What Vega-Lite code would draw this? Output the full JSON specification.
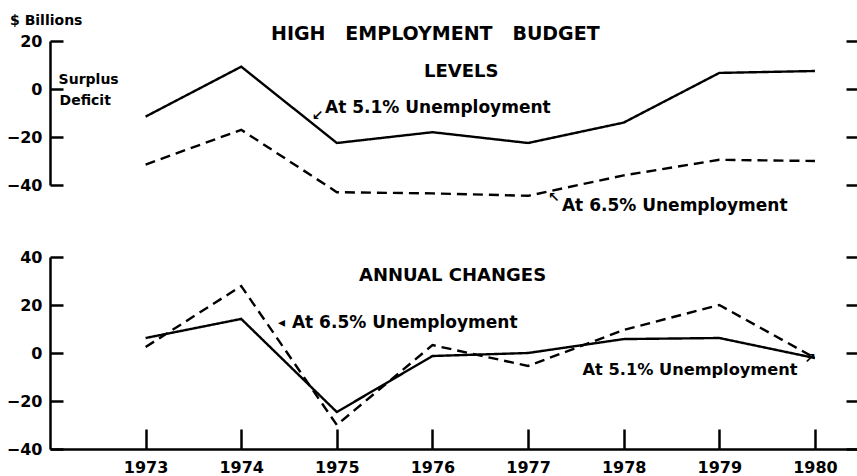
{
  "$schema": "https://vega.github.io/schema/vega-lite/v6.json",
  "autosize": {"type": "pad"},
  "padding": {"left": 6, "top": 14, "right": 0, "bottom": 0},
  "background": "white",
  "bounds": "flush",
  "spacing": 72,
  "config": {
    "view": {"stroke": null},
    "font": "DejaVu Sans",
    "axis": {"labelFont": "DejaVu Sans", "labelFontWeight": "bold", "labelColor": "black", "domainColor": "black", "tickColor": "black", "grid": false}
  },
  "vconcat": [
    {
      "width": 807,
      "height": 144,
      "encoding": {
        "x": {"field": "year", "type": "quantitative", "scale": {"domain": [1972, 1980.44], "nice": false, "zero": false}, "axis": null}
      },
      "layer": [
        {
          "data": {"values": [
            {"year": 1973, "series": "5.1%", "value": -11.5},
            {"year": 1974, "series": "5.1%", "value": 9.3},
            {"year": 1975, "series": "5.1%", "value": -22.5},
            {"year": 1976, "series": "5.1%", "value": -18},
            {"year": 1977, "series": "5.1%", "value": -22.5},
            {"year": 1978, "series": "5.1%", "value": -14},
            {"year": 1979, "series": "5.1%", "value": 6.7},
            {"year": 1980, "series": "5.1%", "value": 7.5},
            {"year": 1973, "series": "6.5%", "value": -31.5},
            {"year": 1974, "series": "6.5%", "value": -17},
            {"year": 1975, "series": "6.5%", "value": -43},
            {"year": 1976, "series": "6.5%", "value": -43.5},
            {"year": 1977, "series": "6.5%", "value": -44.5},
            {"year": 1978, "series": "6.5%", "value": -36},
            {"year": 1979, "series": "6.5%", "value": -29.5},
            {"year": 1980, "series": "6.5%", "value": -30}
          ]},
          "mark": {"type": "line", "color": "black", "strokeWidth": 2.4},
          "encoding": {
            "y": {"field": "value", "type": "quantitative", "scale": {"domain": [-40, 20], "nice": false, "zero": false},
                  "axis": {"orient": "left", "title": null, "values": [-40, -20, 0, 20], "tickSize": -13, "tickWidth": 2.5, "domainWidth": 2.5, "labelFontSize": 16, "labelPadding": 21}},
            "strokeDash": {"field": "series", "type": "nominal", "scale": {"domain": ["5.1%", "6.5%"], "range": [[1, 0], [10, 6]]}, "legend": null}
          }
        },
        {
          "data": {"values": [{"value": 0}]},
          "mark": {"type": "rule", "color": "black", "strokeWidth": 2},
          "encoding": {
            "y": {"field": "value", "type": "quantitative", "scale": {"domain": [-40, 20], "nice": false, "zero": false},
                  "axis": {"orient": "right", "title": null, "values": [-40, -20, 0, 20], "tickSize": -11, "tickWidth": 2.5, "domain": false, "labels": false}}
          }
        },
        {
          "data": {"values": [{"year": 1976.03, "value": 22.9, "label": "HIGH\u00a0\u00a0\u00a0EMPLOYMENT\u00a0\u00a0\u00a0BUDGET"}]},
          "mark": {"type": "text", "fontSize": 19, "fontWeight": "bold", "align": "center", "baseline": "middle", "color": "black"},
          "encoding": {
            "y": {"field": "value", "type": "quantitative", "scale": {"domain": [-40, 20], "nice": false, "zero": false}, "axis": null},
            "text": {"field": "label"}
          }
        },
        {
          "data": {"values": [{"year": 1976.3, "value": 7.1, "label": "LEVELS"}]},
          "mark": {"type": "text", "fontSize": 18, "fontWeight": "bold", "align": "center", "baseline": "middle", "color": "black"},
          "encoding": {
            "y": {"field": "value", "type": "quantitative", "scale": {"domain": [-40, 20], "nice": false, "zero": false}, "axis": null},
            "text": {"field": "label"}
          }
        },
        {
          "data": {"values": [{"year": 1971.582, "value": 31.25, "label": "$ Billions"}]},
          "mark": {"type": "text", "fontSize": 14, "fontWeight": "bold", "align": "left", "baseline": "top", "color": "black"},
          "encoding": {
            "y": {"field": "value", "type": "quantitative", "scale": {"domain": [-40, 20], "nice": false, "zero": false}, "axis": null},
            "text": {"field": "label"}
          }
        },
        {
          "data": {"values": [
            {"year": 1972.09, "value": 3.8, "label": "Surplus"},
            {"year": 1972.1, "value": -5, "label": "Deficit"}
          ]},
          "mark": {"type": "text", "fontSize": 14, "fontWeight": "bold", "align": "left", "baseline": "middle", "color": "black"},
          "encoding": {
            "y": {"field": "value", "type": "quantitative", "scale": {"domain": [-40, 20], "nice": false, "zero": false}, "axis": null},
            "text": {"field": "label"}
          }
        },
        {
          "data": {"values": [
            {"year": 1974.876, "value": -7.9, "label": "At 5.1% Unemployment"},
            {"year": 1977.354, "value": -48.75, "label": "At 6.5% Unemployment"}
          ]},
          "mark": {"type": "text", "fontSize": 17, "fontWeight": "bold", "align": "left", "baseline": "middle", "color": "black"},
          "encoding": {
            "y": {"field": "value", "type": "quantitative", "scale": {"domain": [-40, 20], "nice": false, "zero": false}, "axis": null},
            "text": {"field": "label"}
          }
        },
        {
          "data": {"values": [
            {"year": 1974.8, "value": -11.2, "label": "\u2199"},
            {"year": 1977.27, "value": -45.4, "label": "\u2196"}
          ]},
          "mark": {"type": "text", "fontSize": 14, "fontWeight": "bold", "align": "center", "baseline": "middle", "color": "black"},
          "encoding": {
            "y": {"field": "value", "type": "quantitative", "scale": {"domain": [-40, 20], "nice": false, "zero": false}, "axis": null},
            "text": {"field": "label"}
          }
        }
      ],
      "resolve": {"axis": {"y": "independent"}}
    },
    {
      "width": 807,
      "height": 192,
      "encoding": {
        "x": {"field": "year", "type": "quantitative", "scale": {"domain": [1972, 1980.44], "nice": false, "zero": false},
              "axis": {"orient": "bottom", "title": null, "values": [1973, 1974, 1975, 1976, 1977, 1978, 1979, 1980], "format": "d", "tickSize": -20, "tickWidth": 2.5, "domainWidth": 2.5, "labelFontSize": 16, "labelPadding": 30}}
      },
      "layer": [
        {
          "data": {"values": [
            {"year": 1973, "series": "5.1%", "value": 6.25},
            {"year": 1974, "series": "5.1%", "value": 14.2},
            {"year": 1975, "series": "5.1%", "value": -24.6},
            {"year": 1976, "series": "5.1%", "value": -1.25},
            {"year": 1977, "series": "5.1%", "value": 0},
            {"year": 1978, "series": "5.1%", "value": 5.8},
            {"year": 1979, "series": "5.1%", "value": 6.25},
            {"year": 1980, "series": "5.1%", "value": -2.1},
            {"year": 1973, "series": "6.5%", "value": 2.5},
            {"year": 1974, "series": "6.5%", "value": 27.9},
            {"year": 1975, "series": "6.5%", "value": -30},
            {"year": 1976, "series": "6.5%", "value": 3.3},
            {"year": 1977, "series": "6.5%", "value": -5.4},
            {"year": 1978, "series": "6.5%", "value": 9.6},
            {"year": 1979, "series": "6.5%", "value": 20},
            {"year": 1980, "series": "6.5%", "value": -2.1}
          ]},
          "mark": {"type": "line", "color": "black", "strokeWidth": 2.4},
          "encoding": {
            "y": {"field": "value", "type": "quantitative", "scale": {"domain": [-40, 40], "nice": false, "zero": false},
                  "axis": {"orient": "left", "title": null, "values": [-40, -20, 0, 20, 40], "tickSize": -13, "tickWidth": 2.5, "domainWidth": 2.5, "labelFontSize": 16, "labelPadding": 21}},
            "strokeDash": {"field": "series", "type": "nominal", "scale": {"domain": ["5.1%", "6.5%"], "range": [[1, 0], [10, 6]]}, "legend": null}
          }
        },
        {
          "data": {"values": [{"year": 1976.21, "value": 32.1, "label": "ANNUAL CHANGES"}]},
          "mark": {"type": "text", "fontSize": 18, "fontWeight": "bold", "align": "center", "baseline": "middle", "color": "black"},
          "encoding": {
            "y": {"field": "value", "type": "quantitative", "scale": {"domain": [-40, 40], "nice": false, "zero": false},
                  "axis": {"orient": "right", "title": null, "values": [-40, -20, 0, 20, 40], "tickSize": -11, "tickWidth": 2.5, "domain": false, "labels": false}},
            "text": {"field": "label"}
          }
        },
        {
          "data": {"values": [{"year": 1974.53, "value": 12.5, "label": "At\u00a06.5% Unemployment"}]},
          "mark": {"type": "text", "fontSize": 17, "fontWeight": "bold", "align": "left", "baseline": "middle", "color": "black"},
          "encoding": {
            "y": {"field": "value", "type": "quantitative", "scale": {"domain": [-40, 40], "nice": false, "zero": false}, "axis": null},
            "text": {"field": "label"}
          }
        },
        {
          "data": {"values": [{"year": 1977.57, "value": -7.1, "label": "At 5.1% Unemployment"}]},
          "mark": {"type": "text", "fontSize": 16.2, "fontWeight": "bold", "align": "left", "baseline": "middle", "color": "black"},
          "encoding": {
            "y": {"field": "value", "type": "quantitative", "scale": {"domain": [-40, 40], "nice": false, "zero": false}, "axis": null},
            "text": {"field": "label"}
          }
        },
        {
          "data": {"values": [
            {"year": 1974.42, "value": 12.3, "label": "\u25c2"},
            {"year": 1979.95, "value": -2.6, "label": "\u2197"}
          ]},
          "mark": {"type": "text", "fontSize": 14, "fontWeight": "bold", "align": "center", "baseline": "middle", "color": "black"},
          "encoding": {
            "y": {"field": "value", "type": "quantitative", "scale": {"domain": [-40, 40], "nice": false, "zero": false}, "axis": null},
            "text": {"field": "label"}
          }
        }
      ],
      "resolve": {"axis": {"y": "independent"}}
    }
  ]
}
